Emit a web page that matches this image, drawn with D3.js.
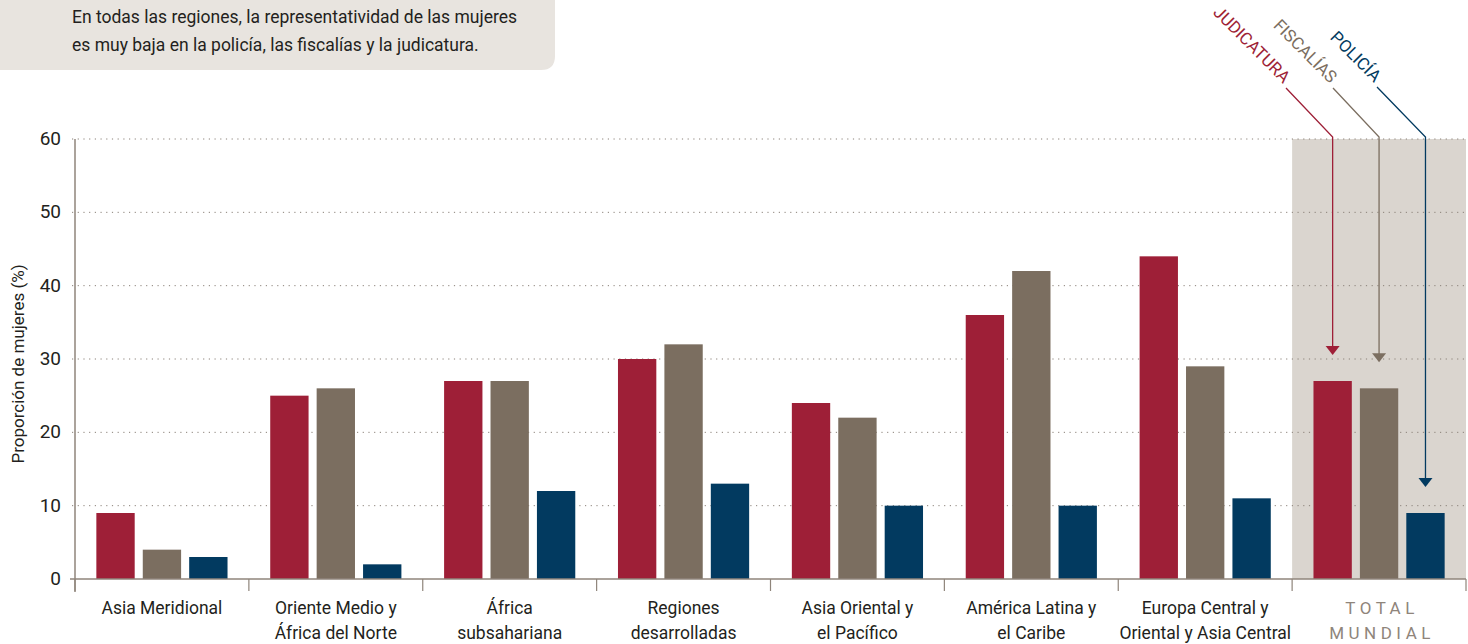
<!DOCTYPE html>
<html><head><meta charset="utf-8">
<script src="https://cdn.jsdelivr.net/npm/d3@7"></script>
<style>body{margin:0;background:#fff;} svg{display:block;}</style>
</head><body>
<svg id="c" width="1468" height="644"></svg>
<script>
const categories = [
  ["Asia Meridional"],
  ["Oriente Medio y","África del Norte"],
  ["África","subsahariana"],
  ["Regiones","desarrolladas"],
  ["Asia Oriental y","el Pacífico"],
  ["América Latina y","el Caribe"],
  ["Europa Central y","Oriental y Asia Central"],
  ["TOTAL","MUNDIAL"]
];
const seriesNames = ["JUDICATURA","FISCALÍAS","POLICÍA"];
const judicatura = [9,25,27,30,24,36,44,27];
const fiscalias  = [4,26,27,32,22,42,29,26];
const policia    = [3,2,12,13,10,10,11,9];
const yTicks = [0,10,20,30,40,50,60];
const colors = ["#9e1f37","#7b6e60","#023a60"];
const FONT = "'Liberation Sans Narrow','Roboto','Liberation Sans',sans-serif";

(function(){
const svg = d3.select("#c");
const L = 75, R = 1466, T = 139, B = 579;
const x = d3.scaleBand().domain(d3.range(categories.length)).range([L,R]).paddingInner(0).paddingOuter(0);
const xs = d3.scaleBand().domain([0,1,2]).range([0,x.bandwidth()]).paddingInner(0.174).paddingOuter(0.46);
const y = d3.scaleLinear().domain([0,60]).range([B,T]);
const series = [judicatura,fiscalias,policia];

// annotation box
svg.append("path").attr("d",`M0,0 H555 V56 Q555,70 541,70 H0 Z`).attr("fill","#e8e4df");
svg.append("text").attr("x",72).attr("y",23).attr("font-family",FONT).attr("font-size",17.5).attr("fill","#231f20")
  .text("En todas las regiones, la representatividad de las mujeres");
svg.append("text").attr("x",72).attr("y",51).attr("font-family",FONT).attr("font-size",17.5).attr("fill","#231f20")
  .text("es muy baja en la policía, las fiscalías y la judicatura.");

// total background
const last = categories.length-1;
svg.append("rect").attr("x",x(last)).attr("y",T).attr("width",x.bandwidth()).attr("height",B-T).attr("fill","#dad5cf");

// gridlines
svg.append("g").selectAll("line").data(yTicks.filter(d=>d>0)).join("line")
  .attr("x1",L-3).attr("x2",R).attr("y1",d=>y(d)).attr("y2",d=>y(d))
  .attr("stroke","#8a8078").attr("stroke-width",1).attr("stroke-dasharray","1.2,4.5");

// y tick labels
svg.append("g").selectAll("text").data(yTicks).join("text")
  .attr("x",61).attr("y",d=>y(d)+6).attr("text-anchor","end")
  .attr("font-family",FONT).attr("font-size",19).attr("fill","#231f20").text(d=>d);
svg.append("line").attr("x1",70).attr("x2",L).attr("y1",B).attr("y2",B).attr("stroke","#8f857b").attr("stroke-width",1.5);

// y title
svg.append("text").attr("transform",`translate(24,${(T+B)/2+5}) rotate(-90)`).attr("text-anchor","middle")
  .attr("font-family",FONT).attr("font-size",17).attr("fill","#231f20").text("Proporción de mujeres (%)");

// bars
const g = svg.append("g");
categories.forEach((c,i)=>{
  series.forEach((s,j)=>{
    g.append("rect").attr("x",x(i)+xs(j)).attr("y",y(s[i])).attr("width",xs.bandwidth()).attr("height",y(0)-y(s[i])).attr("fill",colors[j]);
  });
});

// axes
svg.append("line").attr("x1",L).attr("x2",L).attr("y1",T).attr("y2",592).attr("stroke","#8f857b").attr("stroke-width",1.5);
svg.append("line").attr("x1",L).attr("x2",R).attr("y1",B).attr("y2",B).attr("stroke","#8f857b").attr("stroke-width",1.5);
const bounds = d3.range(categories.length+1).map(i=> i<categories.length ? x(i) : R);
svg.append("g").selectAll("line").data(bounds).join("line")
  .attr("x1",d=>d).attr("x2",d=>d).attr("y1",B).attr("y2",591).attr("stroke","#8f857b").attr("stroke-width",1.2);

// x labels
categories.forEach((lines,i)=>{
  const isTotal = i===last;
  lines.forEach((t,k)=>{
    svg.append("text").attr("x",x(i)+x.bandwidth()/2+(isTotal?3:0)).attr("y",614+k*25).attr("text-anchor","middle")
      .attr("font-family",FONT).attr("font-size",isTotal?17:17.5)
      .attr("letter-spacing",isTotal?"4.5px":"0")
      .attr("fill",isTotal?"#8f857b":"#231f20").text(t);
  });
});

// legend callouts with arrows
const labelStart = [[1286,88],[1333,88],[1377,87]];
series.forEach((s,j)=>{
  const cx = x(last)+xs(j)+xs.bandwidth()/2;
  const tipY = y(s[last]) - 26;
  const [sx,sy] = labelStart[j];
  svg.append("path").attr("d",`M${sx},${sy} L${cx},${T-2} L${cx},${tipY-8}`)
    .attr("fill","none").attr("stroke",colors[j]).attr("stroke-width",1.3);
  svg.append("path").attr("d",`M${cx-7},${tipY-9} L${cx+7},${tipY-9} L${cx},${tipY} Z`).attr("fill",colors[j]);
  svg.append("text").attr("transform",`translate(${sx-3},${sy-4}) rotate(45)`).attr("text-anchor","end")
    .attr("font-family",FONT).attr("font-size",17).attr("fill",colors[j]).text(seriesNames[j]);
});
})();
</script>
</body></html>
